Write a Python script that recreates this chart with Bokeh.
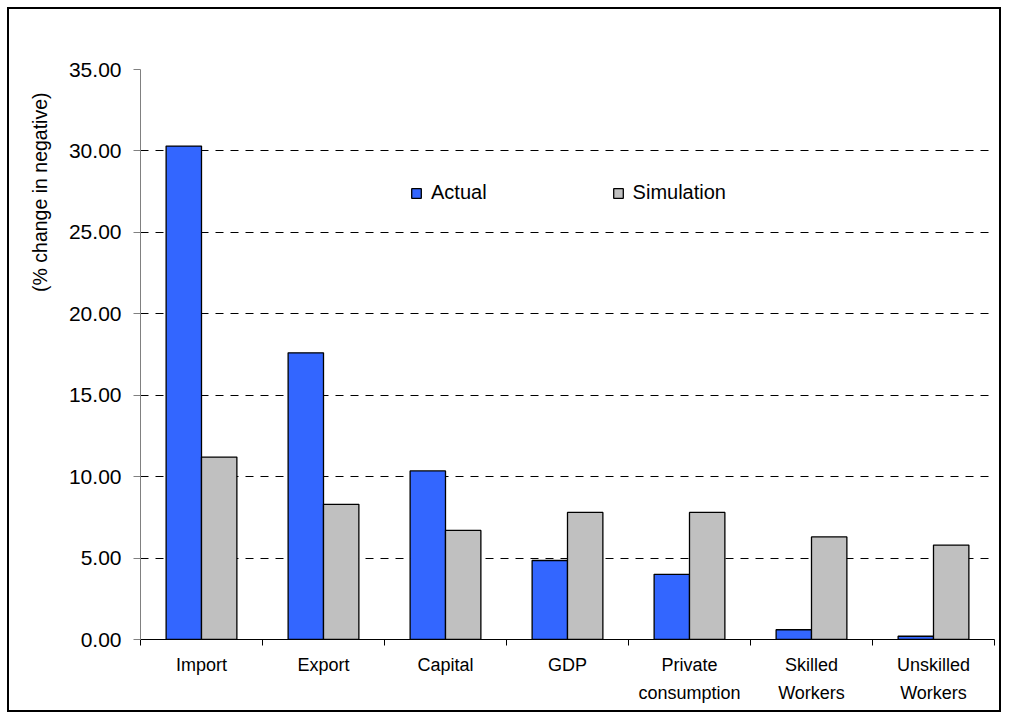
import math
from bokeh.plotting import figure
from bokeh.models import Range1d, FixedTicker, Legend, LegendItem, Title, ColumnDataSource
from bokeh.embed import file_html
from bokeh.resources import INLINE

categories = ["Import", "Export", "Capital", "GDP", "Private\nconsumption", "Skilled\nWorkers", "Unskilled\nWorkers"]
actual = [30.3, 17.6, 10.35, 4.85, 4.0, 0.6, 0.2]
simulation = [11.2, 8.3, 6.7, 7.8, 7.8, 6.3, 5.8]
y_ticks = [0, 5, 10, 15, 20, 25, 30, 35]

FONT = "Liberation Sans"
n = len(categories)
centers = [i + 0.5 for i in range(n)]
bw = 0.29

p = figure(width=994, height=705, output_backend="svg", toolbar_location=None,
           x_range=Range1d(0, n), y_range=Range1d(0, 35),
           min_border_left=131, min_border_top=60, min_border_right=9, min_border_bottom=75)
p.styles = {"margin": "7px", "border": "2px solid black"}
p.outline_line_color = None
p.background_fill_color = "white"
p.border_fill_color = "white"

src = ColumnDataSource(dict(xa=[c - bw / 2 for c in centers], xs=[c + bw / 2 for c in centers],
                            a=actual, s=simulation))
ra = p.vbar(x="xa", top="a", width=bw, source=src, fill_color="#3366FF",
            line_color="black", line_width=1.3)
rs = p.vbar(x="xs", top="s", width=bw, source=src, fill_color="#C0C0C0",
            line_color="black", line_width=1.3)

# x axis
xa = p.xaxis[0]
xa.ticker = FixedTicker(ticks=centers, minor_ticks=list(range(n + 1)))
xa.major_label_overrides = {c: lab for c, lab in zip(centers, categories)}
xa.major_tick_out = 0
xa.major_tick_in = 0
xa.minor_tick_out = 6
xa.minor_tick_in = 0
xa.minor_tick_line_color = "black"
xa.axis_line_color = "black"
xa.major_label_text_font = FONT
xa.major_label_text_font_size = "18px"
xa.major_label_text_color = "black"
xa.major_label_standoff = 9
xa.major_label_text_line_height = 1.4

# y axis
ya = p.yaxis[0]
ya.ticker = FixedTicker(ticks=y_ticks)
ya.major_label_overrides = {t: f"{t:.2f}" for t in y_ticks}
ya.minor_tick_line_color = None
ya.major_tick_out = 7
ya.major_tick_in = 0
ya.major_tick_line_color = "#808080"
ya.axis_line_color = "#808080"
ya.major_label_text_font = FONT
ya.major_label_text_font_size = "21px"
ya.major_label_text_color = "black"
ya.major_label_standoff = 12

p.xgrid.grid_line_color = None
p.ygrid.ticker = FixedTicker(ticks=y_ticks[1:])
p.ygrid.grid_line_color = "black"
p.ygrid.grid_line_dash = "8 7"
p.ygrid.grid_line_width = 1

ytitle = Title(text="(% change in negative)", align="right", offset=23, standoff=30,
               text_font=FONT, text_font_size="19.5px", text_font_style="normal",
               text_color="black")
p.add_layout(ytitle, "left")

legend = Legend(items=[LegendItem(label="Actual", renderers=[ra]),
                       LegendItem(label="Simulation", renderers=[rs])],
                orientation="horizontal", location=(270, 435), spacing=125,
                padding=0, margin=0, glyph_width=12, glyph_height=12, label_standoff=9,
                label_text_font=FONT, label_text_font_size="20px", label_height=20,
                label_text_color="black",
                border_line_color=None, background_fill_alpha=0)
p.add_layout(legend, "center")

open("out.html", "w").write(file_html(p, INLINE))
